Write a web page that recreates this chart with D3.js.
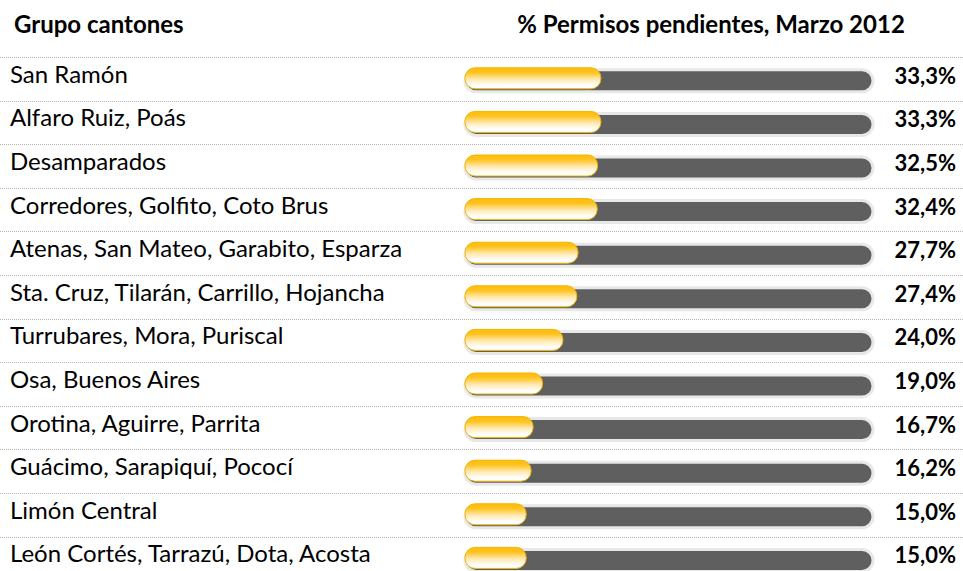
<!DOCTYPE html>
<html lang="es">
<head>
<meta charset="UTF-8">
<title>Permisos pendientes</title>
<script src="https://d3js.org/d3.v7.min.js"></script>
<style>
  body { margin: 0; background: #fff; }
  text { font-family: Lato, "Open Sans", sans-serif; fill: #000; }
</style>
</head>
<body>
<svg id="chart" width="963" height="571"></svg>
<script>
const cantones = [
  "San Ramón",
  "Alfaro Ruiz, Poás",
  "Desamparados",
  "Corredores, Golfito, Coto Brus",
  "Atenas, San Mateo, Garabito, Esparza",
  "Sta. Cruz, Tilarán, Carrillo, Hojancha",
  "Turrubares, Mora, Puriscal",
  "Osa, Buenos Aires",
  "Orotina, Aguirre, Parrita",
  "Guácimo, Sarapiquí, Pococí",
  "Limón Central",
  "León Cortés, Tarrazú, Dota, Acosta"
];
const pendientes = [33.3, 33.3, 32.5, 32.4, 27.7, 27.4, 24.0, 19.0, 16.7, 16.2, 15.0, 15.0];

const svg = d3.select("#chart");
const W = 963;

const y = d3.scaleBand().domain(cantones).range([57, 57 + 12 * 43.6]);
const x = d3.scaleLinear().domain([0, 100]).range([465, 873]);
const fmt = v => d3.format(".1f")(v).replace(".", ",") + "%";

// gradient for the yellow part
const defs = svg.append("defs");
const grad = defs.append("linearGradient").attr("id", "amarillo")
  .attr("x1", 0).attr("y1", 0).attr("x2", 0).attr("y2", 1);
grad.append("stop").attr("offset", "0%").attr("stop-color", "#ffbd0a");
grad.append("stop").attr("offset", "22%").attr("stop-color", "#ffc31e");
grad.append("stop").attr("offset", "55%").attr("stop-color", "#ffe9b0");
grad.append("stop").attr("offset", "85%").attr("stop-color", "#ffffff");
grad.append("stop").attr("offset", "100%").attr("stop-color", "#ffffff");

// headers
svg.append("text").attr("x", 14).attr("y", 33)
  .attr("font-size", 24).attr("font-weight", "bold").text("Grupo cantones");
svg.append("text").attr("x", 711).attr("y", 33).attr("text-anchor", "middle")
  .attr("font-size", 24).attr("font-weight", "bold").text("% Permisos pendientes, Marzo 2012");

// row separators
svg.selectAll(".sep").data(cantones).enter().append("line")
  .attr("class", "sep")
  .attr("x1", 0).attr("x2", W)
  .attr("y1", d => Math.round(y(d)) + 0.5).attr("y2", d => Math.round(y(d)) + 0.5)
  .attr("stroke", "#b4b4b4").attr("stroke-width", 1)
  .attr("stroke-dasharray", "1,1");

const row = svg.selectAll(".row").data(cantones).enter().append("g")
  .attr("class", "row")
  .attr("transform", d => `translate(0, ${y(d) + y.bandwidth() / 2 + 2})`);

// labels
row.append("text").attr("x", 10).attr("y", 2)
  .attr("font-size", 24).text(d => d);

// track
const bh = 22;
row.append("rect")
  .attr("x", x(0)).attr("y", -bh / 2)
  .attr("width", x(100) - x(0)).attr("height", bh)
  .attr("rx", bh / 2)
  .attr("fill", "#5f5f5f")
  .attr("stroke", "#e8e8e8").attr("stroke-width", 3);

// yellow value bar
row.append("rect")
  .attr("x", x(0)).attr("y", -bh / 2 - 2)
  .attr("width", (d, i) => x(pendientes[i]) - x(0)).attr("height", bh - 1)
  .attr("rx", 10)
  .attr("fill", "url(#amarillo)")
  .attr("stroke", "#f2b400").attr("stroke-width", 1);

// values
row.append("text").attr("x", 956).attr("y", 3)
  .attr("text-anchor", "end").attr("font-size", 22).attr("font-weight", "bold")
  .text((d, i) => fmt(pendientes[i]));
</script>
</body>
</html>
